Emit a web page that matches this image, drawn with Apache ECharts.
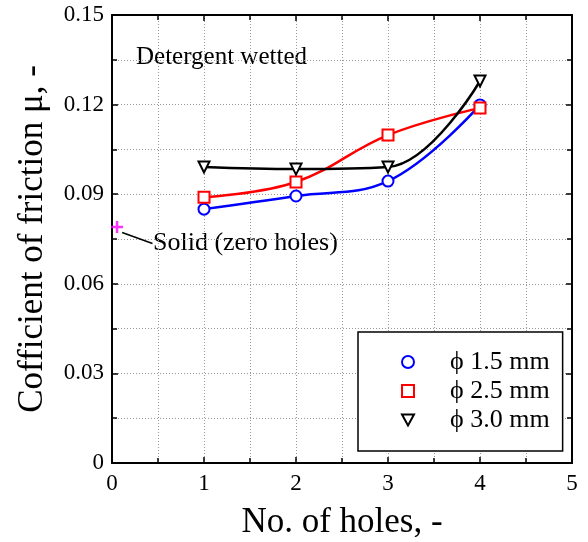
<!DOCTYPE html>
<html><head><meta charset="utf-8">
<script src="https://cdn.jsdelivr.net/npm/echarts@6/dist/echarts.min.js"></script>
<style>html,body{margin:0;padding:0;background:#fff}#c{width:588px;height:542px}</style>
</head><body><div id="c"></div>
<script>
const holes = [1, 2, 3, 4];
const phi15 = [0.0850, 0.0894, 0.0944, 0.1199];
const phi25 = [0.0890, 0.0941, 0.1098, 0.1189];
const phi30 = [0.0991, 0.0984, 0.0991, 0.1279];
const solid = [[0.055, 0.0790]];
const seriesNames = ['\u03D5 1.5 mm', '\u03D5 2.5 mm', '\u03D5 3.0 mm'];
const xTicks = [0, 1, 2, 3, 4, 5];
const yTicks = [0, 0.03, 0.06, 0.09, 0.12, 0.15];

const F = 'Liberation Serif, Times New Roman, serif';
const tri = 'path://M0,0 L10,0 L5,9 Z';
const plus = 'path://M0,5 L10,5 M5,1 L5,9';
function mk(name, vals, color, symbol, size) {
  return {
    name, type: 'line', smooth: 0.4,
    data: holes.map((h, i) => [h, vals[i]]),
    symbol, symbolSize: size,
    lineStyle: {color, width: 2.5},
    itemStyle: {color: '#fff', borderColor: color, borderWidth: 2},
    z: 3
  };
}
const axisCommon = {
  axisLine: {onZero: false, lineStyle: {color: '#000', width: 2}},
  axisTick: {inside: true, length: 6, lineStyle: {color: '#000', width: 1.5}},
  minorTick: {show: true, splitNumber: 2, length: 5, lineStyle: {color: '#000', width: 1.5}},
  splitLine: {show: true, lineStyle: {color: '#999', type: [1, 2], width: 1}},
  minorSplitLine: {show: true, lineStyle: {color: '#999', type: [1, 2], width: 1}}
};
const chart = echarts.init(document.getElementById('c'));
chart.setOption({
  animation: false,
  grid: {left: 112, right: 16, top: 15, bottom: 79, containLabel: false, outerBoundsMode: 'none'},
  xAxis: [
    Object.assign({type: 'value', min: xTicks[0], max: xTicks[xTicks.length-1], interval: 1,
      name: 'No. of holes, -', nameLocation: 'middle', nameGap: 42,
      nameTextStyle: {fontFamily: F, fontSize: 35, color: '#000'},
      axisLabel: {fontFamily: F, fontSize: 23, color: '#000', margin: 9}}, axisCommon),
    Object.assign({type: 'value', position: 'top', min: 0, max: 5, interval: 1,
      axisLabel: {show: false}}, axisCommon, {splitLine: {show: false}, minorSplitLine: {show: false}})
  ],
  yAxis: [
    Object.assign({type: 'value', min: yTicks[0], max: yTicks[yTicks.length-1], interval: 0.03,
      name: 'Cofficient of friction \u03BC, -', nameLocation: 'middle', nameGap: 62,
      nameTextStyle: {fontFamily: F, fontSize: 35, color: '#000'},
      axisLabel: {fontFamily: F, fontSize: 23, color: '#000', margin: 8,
        formatter: v => v === 0 ? '0' : v.toFixed(2)}}, axisCommon),
    Object.assign({type: 'value', position: 'right', min: 0, max: 0.15, interval: 0.03,
      axisLabel: {show: false}}, axisCommon, {splitLine: {show: false}, minorSplitLine: {show: false}})
  ],
  legend: {
    orient: 'vertical', left: 358, top: 332,
    padding: [17, 13, 18, 43], itemGap: 3, itemWidth: 12, itemHeight: 12,
    borderColor: '#000', borderWidth: 1.5, backgroundColor: '#fff',
    textStyle: {fontFamily: F, fontSize: 26, color: '#000', lineHeight: 26, padding: [0, 0, 0, 31]},
    data: [
      {name: seriesNames[0], icon: 'circle', itemStyle: {color: '#fff', borderColor: '#0000ff', borderWidth: 2}},
      {name: seriesNames[1], icon: 'rect', itemStyle: {color: '#fff', borderColor: '#ff0000', borderWidth: 2}},
      {name: seriesNames[2], icon: tri, itemStyle: {color: '#fff', borderColor: '#000', borderWidth: 2}}
    ]
  },
  series: [
    mk(seriesNames[0], phi15, '#0000ff', 'circle', 11),
    mk(seriesNames[1], phi25, '#ff0000', 'rect', 11),
    mk(seriesNames[2], phi30, '#000000', tri, 11),
    {name: 'Solid', type: 'scatter', data: solid, symbol: plus, symbolSize: 12,
      itemStyle: {color: '#ff00ff', borderColor: '#ff00ff', borderWidth: 2.5}, z: 4,
      markLine: {silent: true, symbol: 'none', label: {show: false},
        lineStyle: {color: '#000', width: 1.5, type: 'solid'},
        data: [[{coord: [0.11, 0.0772]}, {coord: [0.44, 0.0735]}]]}}
  ],
  graphic: [
    {type: 'text', left: 136, top: 45, style: {text: 'Detergent wetted', fontFamily: F, fontSize: 25, fill: '#000'}},
    {type: 'text', left: 153, top: 230, style: {text: 'Solid (zero holes)', fontFamily: F, fontSize: 26, fill: '#000'}}
  ]
});
</script></body></html>
